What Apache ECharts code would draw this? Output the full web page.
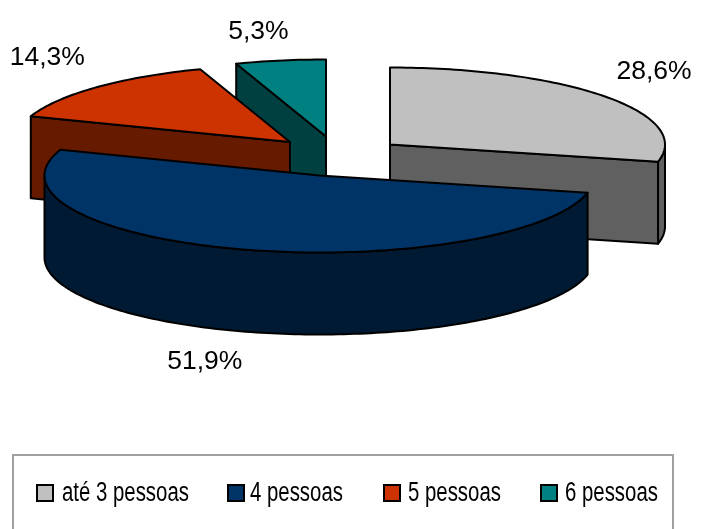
<!DOCTYPE html>
<html><head><meta charset="utf-8">
<style>html,body{margin:0;padding:0;background:#fff}#c{width:702px;height:529px}</style>
<script src="https://cdn.jsdelivr.net/npm/echarts@6/dist/echarts.min.js"></script>
</head><body><div id="c"></div>
<script>
const categories = ['até 3 pessoas', '4 pessoas', '5 pessoas', '6 pessoas'];
const values = [28.6, 51.9, 14.3, 5.3];
const topColors = ['#c0c0c0', '#003366', '#cc3300', '#008080'];
const sideColors = ['#606060', '#001a33', '#661a00', '#004040'];
// layout of the exploded 3D pie
const centerX = [390, 319.5, 290, 326];
const centerY = [144.5, 175.5, 142, 136.5];
const labelDx = [49, -38, -49, -22];
const labelDy = [-25, 30, -30, -29];
const RX = 275, RY = 77, DEPTH = 82;
const drawOrder = [3, 2, 0, 1];
// layout of the legend
const legendSwatchX = [37, 228, 384, 541];
const legendTextX = [62, 250, 408, 565];
const legendY = 493;
const legendTextScale = 0.755;

const total = values.reduce((a, b) => a + b, 0);
const starts = [];
values.reduce((acc, v, i) => { starts[i] = acc; return acc + v / total * Math.PI * 2; }, 0);

function pt(i, a, dy) {
  return [centerX[i] + RX * Math.sin(a), centerY[i] - RY * Math.cos(a) + (dy || 0)];
}
function arc(i, a0, a1, dy) {
  const n = Math.max(2, Math.ceil(Math.abs(a1 - a0) / 0.02));
  const out = [];
  for (let k = 0; k <= n; k++) out.push(pt(i, a0 + (a1 - a0) * k / n, dy));
  return out;
}
const stroke = { stroke: '#000', lineWidth: 2, lineJoin: 'round' };
function poly(points, fill) {
  return { type: 'polygon', shape: { points }, style: Object.assign({ fill }, stroke) };
}
function renderSlice(i) {
  return function (params, api) {
    const val = api.value(0);
    const a0 = starts[i], a1 = a0 + val / total * Math.PI * 2;
    const children = [];
    const apex = [centerX[i], centerY[i]];
    const apexLow = [centerX[i], centerY[i] + DEPTH];
    const side = sideColors[i];
    // radial cut faces that look towards the viewer
    if (Math.sin(a0) < -1e-9) children.push(poly([apex, pt(i, a0), pt(i, a0, DEPTH), apexLow], side));
    if (Math.sin(a1) > 1e-9) children.push(poly([apex, pt(i, a1), pt(i, a1, DEPTH), apexLow], side));
    // rim: the part of the arc on the front half of the ellipse
    const f0 = Math.max(a0, Math.PI / 2), f1 = Math.min(a1, Math.PI * 1.5);
    if (f1 > f0) {
      children.push(poly(arc(i, f0, f1, 0).concat(arc(i, f1, f0, DEPTH)), side));
    }
    // top face
    children.push(poly([apex].concat(arc(i, a0, a1, 0)), topColors[i]));
    // value label
    const midA = (a0 + a1) / 2;
    const mid = pt(i, midA, Math.cos(midA) < 0 ? DEPTH : 0);
    children.push({
      type: 'text',
      style: {
        x: mid[0] + labelDx[i], y: mid[1] + labelDy[i],
        text: val.toFixed(1).replace('.', ',') + '%',
        fill: '#000', font: '26.5px "Liberation Sans", Arial, sans-serif',
        align: 'center', verticalAlign: 'middle'
      }
    });
    return { type: 'group', children };
  };
}

const legendElements = [{
  type: 'rect',
  shape: { x: 13, y: 455, width: 660, height: 100 },
  style: { fill: '#fff', stroke: '#a0a0a0', lineWidth: 2 }
}];
categories.forEach((name, i) => {
  legendElements.push({
    type: 'rect',
    shape: { x: legendSwatchX[i], y: legendY - 8, width: 16, height: 16 },
    style: { fill: topColors[i], stroke: '#000', lineWidth: 2 }
  });
  legendElements.push({
    type: 'text',
    x: legendTextX[i], y: legendY + 1,
    scaleX: legendTextScale,
    style: {
      text: name, fill: '#000',
      font: '27px "Liberation Sans", Arial, sans-serif',
      align: 'left', verticalAlign: 'middle'
    }
  });
});

const chart = echarts.init(document.getElementById('c'), null, { renderer: 'canvas' });
chart.setOption({
  animation: false,
  backgroundColor: '#fff',
  graphic: { elements: legendElements },
  series: drawOrder.map(i => ({
    type: 'custom',
    name: categories[i],
    coordinateSystem: 'none',
    silent: true,
    itemStyle: { color: topColors[i] },
    renderItem: renderSlice(i),
    data: [[values[i]]]
  }))
});
</script></body></html>
